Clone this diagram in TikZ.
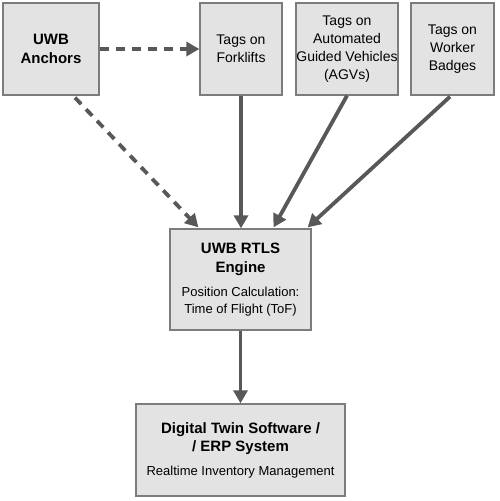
\documentclass[tikz,border=0pt]{standalone}
\usepackage{fontspec}
\setmainfont{Liberation Sans}
\usetikzlibrary{arrows.meta,calc}
\definecolor{boxfill}{HTML}{E3E3E3}
\definecolor{boxline}{HTML}{7C7C7C}
\definecolor{arrowcol}{HTML}{585858}
\tikzset{
  box/.style={draw=boxline, fill=boxfill, line width=1.3pt, align=center, inner sep=0pt, text=black},
  ttlfont/.style={font=\fontsize{15}{19}\selectfont\bfseries},
  tgsfont/.style={font=\fontsize{14}{18}\selectfont},
  mixfont/.style={font=\fontsize{14}{18.5}\selectfont},
  conn/.style={draw=arrowcol, line width=3.8pt, -{Triangle[length=13pt,width=14pt]}},
  dconn/.style={conn, dash pattern=on 9pt off 7pt},
}
\begin{document}
\begin{tikzpicture}[x=1pt,y=-1pt]
\useasboundingbox (0,0) rectangle (499,501);
\fill[white] (0,0) rectangle (499,501);
\node[box, ttlfont, minimum width=96pt, minimum height=92pt] (anc) at (51,49) {UWB\\Anchors};
\node[box, tgsfont, minimum width=82pt, minimum height=92pt] (fork) at (241,49) {Tags on\\Forklifts};
\node[box, tgsfont, minimum width=102pt, minimum height=92pt] (agv) at (347,49) {Tags on\\Automated\\Guided Vehicles\\(AGVs)};
\node[box, tgsfont, minimum width=83pt, minimum height=92pt] (badge) at (452.5,49) {Tags on\\Worker\\Badges};
\node[box, mixfont, minimum width=141pt, minimum height=101pt] (eng) at (240.5,279.5) {\fontsize{15}{19}\selectfont\bfseries UWB RTLS\\\fontsize{15}{19}\selectfont\bfseries Engine\\[6pt] \fontsize{13}{16}\selectfont Position Calculation:\\[-2pt] \fontsize{13}{16}\selectfont Time of Flight (ToF)};
\node[box, mixfont, minimum width=209pt, minimum height=92pt] (twin) at (240.5,450) {\fontsize{15}{19}\selectfont\bfseries Digital Twin Software /\\\fontsize{15}{19}\selectfont\bfseries / ERP System\\[5pt] \fontsize{13}{16}\selectfont Realtime Inventory Management};
\coordinate (ancS) at ($(anc.south)+(24,2)$);
\coordinate (engD) at ($(eng.north west)+(29,-1)$);
\coordinate (engA) at ($(eng.north)+(33,-1)$);
\coordinate (engB) at ($(eng.north east)+(-4,-1)$);
\coordinate (badgeS) at ($(badge.south)+(-2.5,1)$);
\draw[dconn] (anc.east) -- (fork.west);
\draw[dconn] (ancS) -- (engD);
\draw[conn] (fork.south) -- (fork.south |- eng.north);
\draw[conn] (agv.south) -- (engA);
\draw[conn] (badgeS) -- (engB);
\draw[conn] (eng.south) -- (twin.north);
\end{tikzpicture}
\end{document}
